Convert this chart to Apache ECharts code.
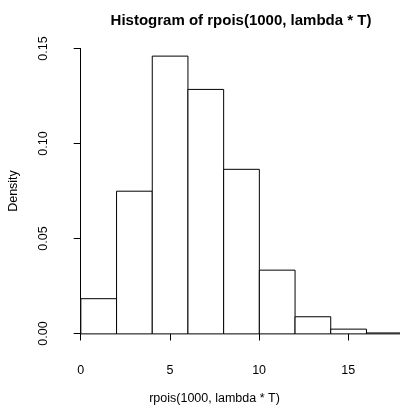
<!DOCTYPE html>
<html>
<head>
<meta charset="utf-8">
<script src="https://cdn.jsdelivr.net/npm/echarts@6/dist/echarts.min.js"></script>
<style>
  html, body { margin: 0; padding: 0; background: #fff; }
  #main { width: 400px; height: 406px; }
</style>
</head>
<body>
<div id="main"></div>
<script>
  // histogram breaks and densities
  var breaks = [0, 2, 4, 6, 8, 10, 12, 14, 16, 18];
  var density = [0.0185, 0.075, 0.146, 0.1285, 0.0865, 0.0335, 0.009, 0.0025, 0.0005];
  var xTicks = [0, 5, 10, 15];
  var yTicks = [0, 0.05, 0.1, 0.15];

  var bins = density.map(function (d, i) {
    return [breaks[i], breaks[i + 1], d];
  });

  var font = 'Liberation Sans, Arial, Helvetica, sans-serif';

  var chart = echarts.init(document.getElementById('main'));
  chart.setOption({
    animation: false,
    title: {
      text: 'Histogram of rpois(1000, lambda * T)',
      left: 236,
      top: 8,
      textAlign: 'center',
      textStyle: { fontFamily: font, fontSize: 15, fontWeight: 'bold', color: '#000' }
    },
    grid: [
      // plot region (bars), runs past the right edge like the original
      { left: 68, top: 45, width: 347, height: 300, outerBoundsMode: 'none' },
      // axis frame: spans first to last tick like R
      { left: 80.7, top: 48.5, width: 267.6, height: 285, outerBoundsMode: 'none' }
    ],
    xAxis: [
      { gridIndex: 0, type: 'value', min: -0.72, max: 18.72, show: false },
      {
        gridIndex: 1, type: 'value', min: xTicks[0], max: xTicks[xTicks.length - 1], interval: 5,
        position: 'bottom', offset: 12,
        name: 'rpois(1000, lambda * T)', nameLocation: 'middle', nameGap: 47,
        nameTextStyle: { fontFamily: font, fontSize: 12.5, color: '#000' },
        axisLine: { show: true, lineStyle: { color: '#000', width: 1 } },
        axisTick: { show: true, length: 7, lineStyle: { color: '#000' } },
        axisLabel: { margin: 19, fontFamily: font, fontSize: 12.5, color: '#000' },
        splitLine: { show: false }
      }
    ],
    yAxis: [
      { gridIndex: 0, type: 'value', min: -0.00584, max: 0.15184, show: false },
      {
        gridIndex: 1, type: 'value', min: yTicks[0], max: yTicks[yTicks.length - 1], interval: 0.05,
        position: 'left', offset: 14,
        name: 'Density', nameLocation: 'middle', nameGap: 47, nameRotate: 90,
        nameTextStyle: { fontFamily: font, fontSize: 12.5, color: '#000' },
        axisLine: { show: true, lineStyle: { color: '#000', width: 1 } },
        axisTick: { show: true, length: 7, lineStyle: { color: '#000' } },
        axisLabel: {
          margin: 17, rotate: 90, fontFamily: font, fontSize: 12.5, color: '#000',
          formatter: function (v) { return v.toFixed(2); }
        },
        splitLine: { show: false }
      }
    ],
    series: [{
      type: 'custom',
      xAxisIndex: 0,
      yAxisIndex: 0,
      data: bins,
      renderItem: function (params, api) {
        var p0 = api.coord([api.value(0), 0]);
        var p1 = api.coord([api.value(1), api.value(2)]);
        return {
          type: 'rect',
          shape: { x: p0[0], y: p1[1], width: p1[0] - p0[0], height: p0[1] - p1[1] },
          style: { fill: '#fff', stroke: '#000', lineWidth: 1 }
        };
      }
    }]
  });
</script>
</body>
</html>
